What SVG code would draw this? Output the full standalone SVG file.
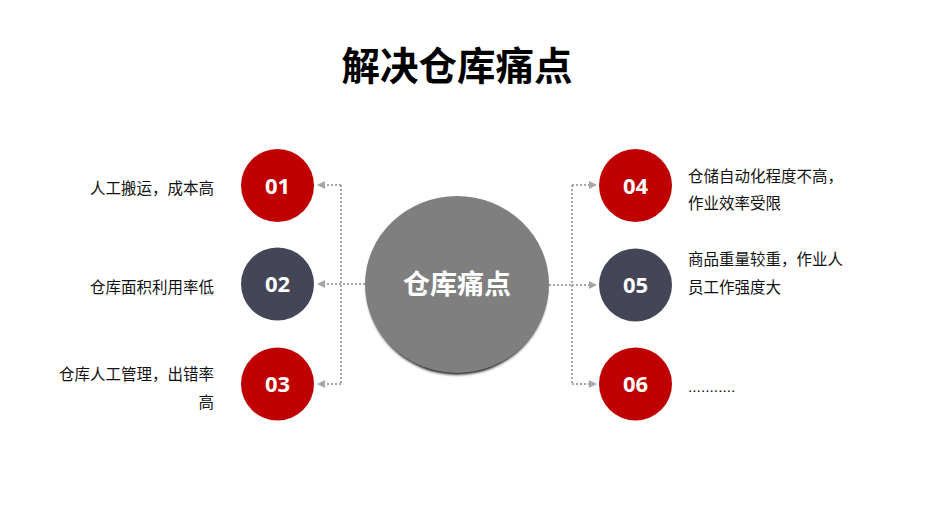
<svg xmlns="http://www.w3.org/2000/svg" width="930" height="523" viewBox="0 0 930 523">
<style>
.title{font-family:"Noto Sans CJK SC","Noto Sans",sans-serif;font-weight:bold;font-size:38.5px;fill:#000}
.num{font-family:"Open Sans","Liberation Sans",sans-serif;font-weight:bold;font-size:22px;fill:#fff}
.ctext{font-family:"Noto Sans CJK SC",sans-serif;font-weight:bold;font-size:27px;fill:#fff}
.lbl{font-family:"Liberation Sans","Noto Sans CJK SC",sans-serif;font-size:15.5px;fill:#111}
.red{fill:#c00000}
.dark{fill:#444657}
.conn{fill:none;stroke:#a6a6a6;stroke-width:2;stroke-dasharray:2 2}
</style>
<defs>
<marker id="arr" viewBox="0 0 8 8" refX="7" refY="4" markerWidth="8" markerHeight="8" markerUnits="userSpaceOnUse" orient="auto">
<path d="M0,0 L8,4 L0,8 z" fill="#a6a6a6"/>
</marker>
<filter id="sh" x="-20%" y="-20%" width="140%" height="140%">
<feGaussianBlur stdDeviation="1.5"/>
</filter>
</defs>
<rect width="930" height="523" fill="#fff"/>
<text class="title" x="457" y="80" text-anchor="middle">解决仓库痛点</text>
<g id="connectors">
<path class="conn" d="M365,284 H341"/>
<path class="conn" d="M341,185 V384"/>
<path class="conn" d="M341,185 H318" marker-end="url(#arr)"/>
<path class="conn" d="M341,284 H318" marker-end="url(#arr)"/>
<path class="conn" d="M341,384 H318" marker-end="url(#arr)"/>
<path class="conn" d="M549,285 H572"/>
<path class="conn" d="M572,185 V384"/>
<path class="conn" d="M572,185 H596" marker-end="url(#arr)"/>
<path class="conn" d="M572,285 H596" marker-end="url(#arr)"/>
<path class="conn" d="M572,384 H596" marker-end="url(#arr)"/>
</g>
<g id="center">
<ellipse cx="457" cy="287.5" rx="90" ry="87" fill="#000" filter="url(#sh)"/>
<ellipse cx="457" cy="284.5" rx="92" ry="88.5" fill="#7f7f7f"/>
<text class="ctext" x="457" y="294" text-anchor="middle">仓库痛点</text>
</g>
<g id="n01">
<circle class="red" cx="277.5" cy="185.5" r="36.5"/>
<text class="num" x="277.5" y="193.5" text-anchor="middle">01</text>
<text class="lbl" x="214" y="194" text-anchor="end">人工搬运，成本高</text>
</g>
<g id="n02">
<circle class="dark" cx="277.5" cy="284" r="36.5"/>
<text class="num" x="277.5" y="292" text-anchor="middle">02</text>
<text class="lbl" x="214" y="293" text-anchor="end">仓库面积利用率低</text>
</g>
<g id="n03">
<circle class="red" cx="277.5" cy="384" r="36.5"/>
<text class="num" x="277.5" y="392" text-anchor="middle">03</text>
<text class="lbl" x="214" y="380" text-anchor="end">仓库人工管理，出错率</text>
<text class="lbl" x="214" y="408" text-anchor="end">高</text>
</g>
<g id="n04">
<circle class="red" cx="635.5" cy="185.5" r="36.5"/>
<text class="num" x="635.5" y="193.5" text-anchor="middle">04</text>
<text class="lbl" x="688" y="182">仓储自动化程度不高，</text>
<text class="lbl" x="688" y="209">作业效率受限</text>
</g>
<g id="n05">
<circle class="dark" cx="635.5" cy="285" r="36.5"/>
<text class="num" x="635.5" y="293" text-anchor="middle">05</text>
<text class="lbl" x="688" y="265">商品重量较重，作业人</text>
<text class="lbl" x="688" y="293">员工作强度大</text>
</g>
<g id="n06">
<circle class="red" cx="635.5" cy="384" r="36.5"/>
<text class="num" x="635.5" y="392" text-anchor="middle">06</text>
<text class="lbl" x="688" y="392">...........</text>
</g>
</svg>
